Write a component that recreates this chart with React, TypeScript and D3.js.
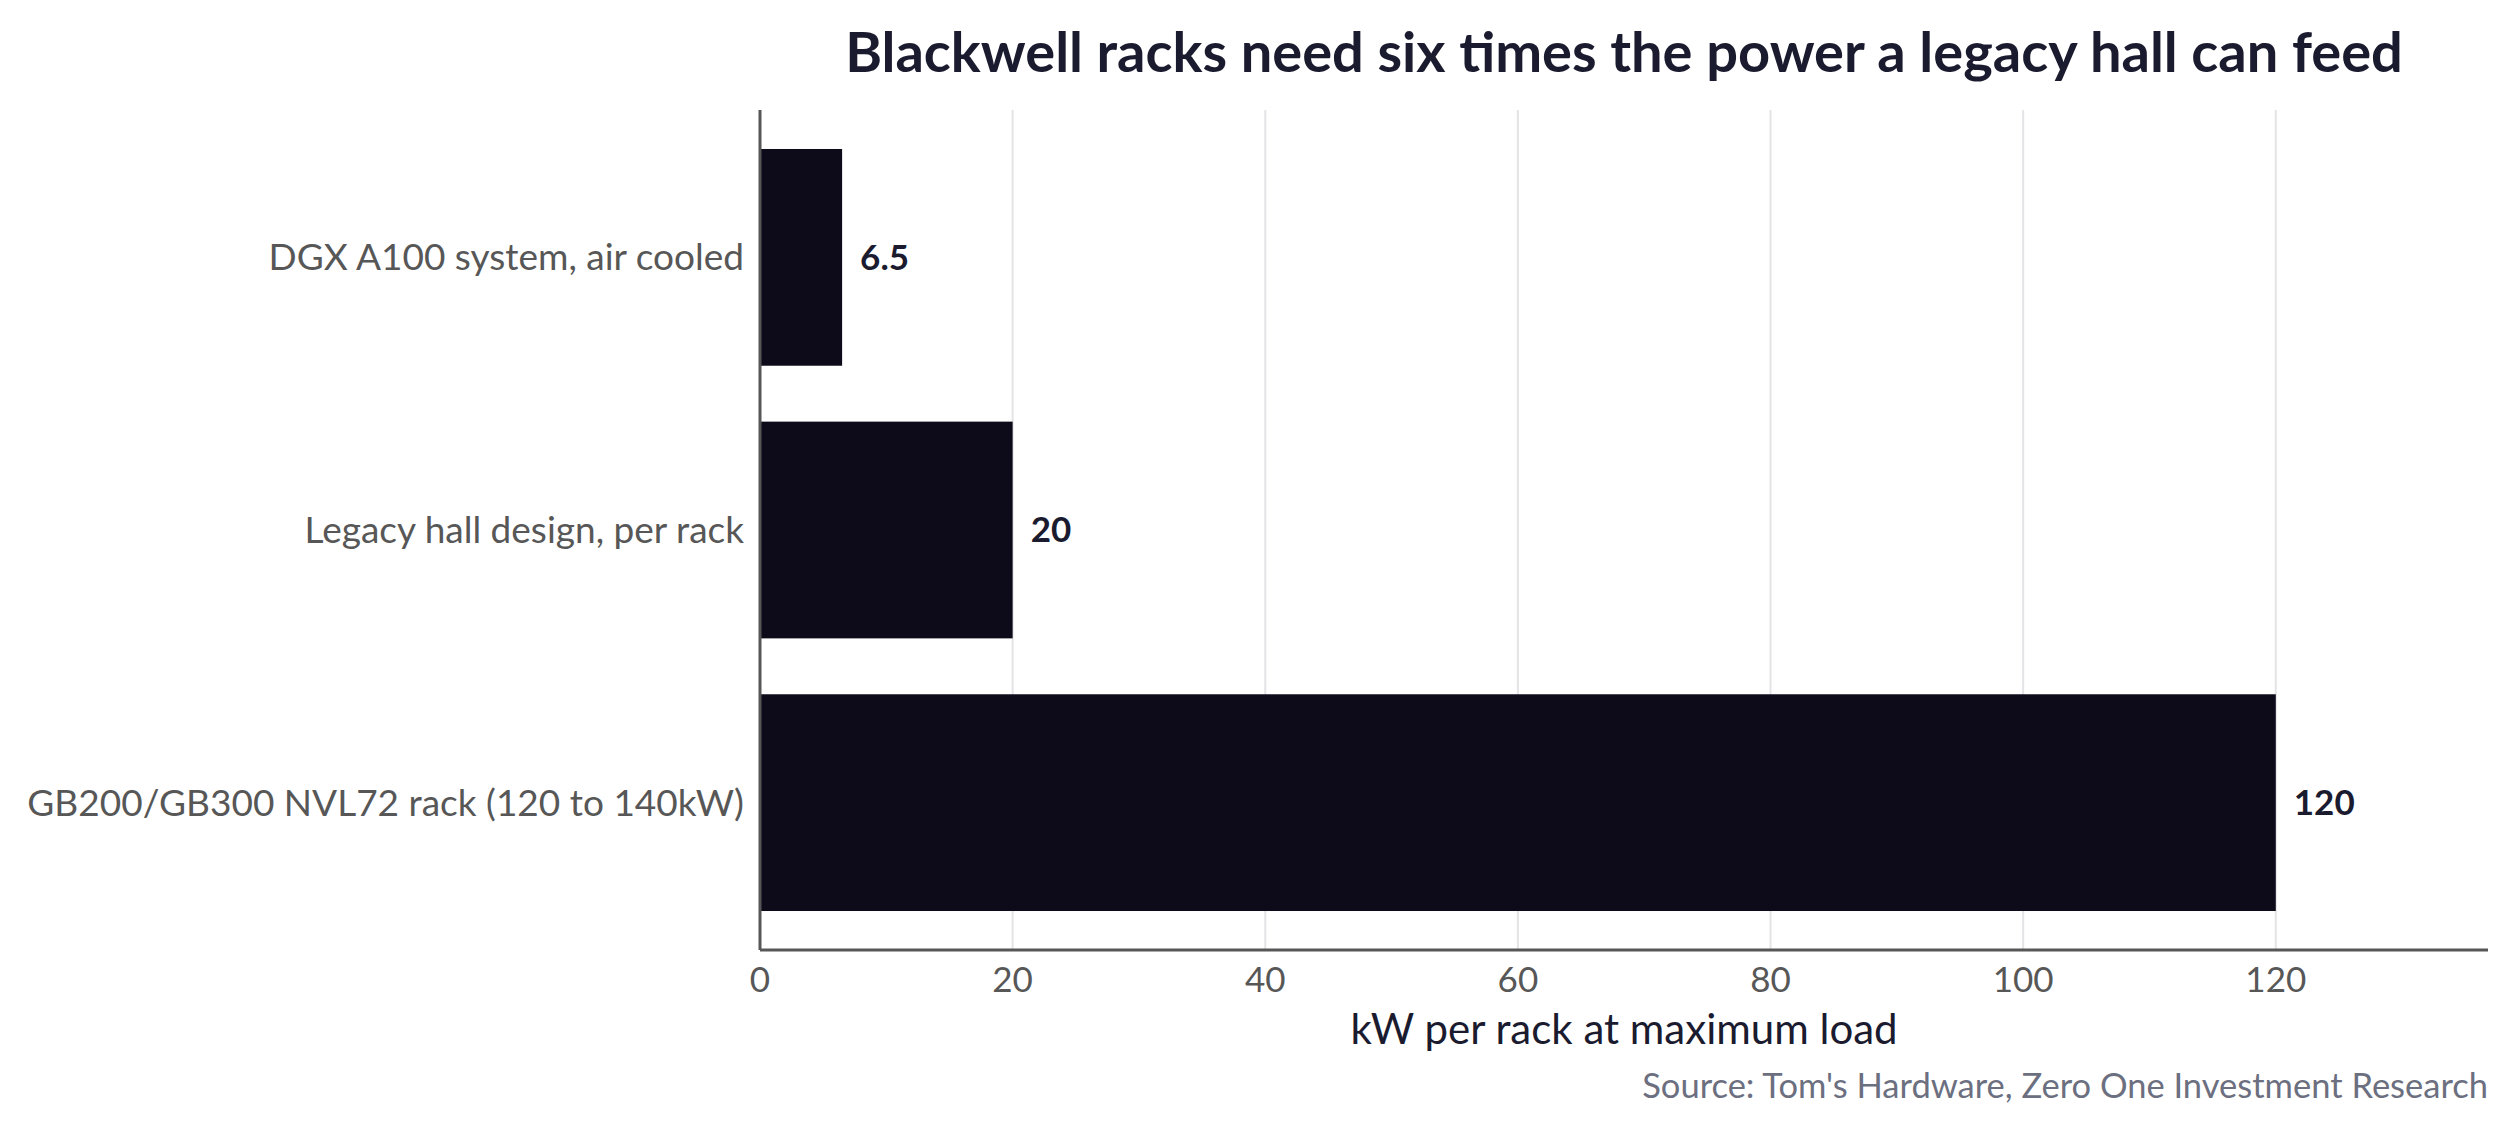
import { useEffect, useMemo } from "react";
import * as d3 from "d3";

const categories = [
  "DGX A100 system, air cooled",
  "Legacy hall design, per rack",
  "GB200/GB300 NVL72 rack (120 to 140kW)",
];
const values = [6.5, 20, 120];
const valueLabels = ["6.5", "20", "120"];
const xTicks = [0, 20, 40, 60, 80, 100, 120];

const TITLE = "Blackwell racks need six times the power a legacy hall can feed";
const X_TITLE = "kW per rack at maximum load";
const SOURCE = "Source: Tom's Hardware, Zero One Investment Research";

const WIDTH = 2518;
const HEIGHT = 1137;
const MARGIN = { top: 110, right: 30, bottom: 187, left: 760 };

const FONT = "Lato, 'Open Sans', sans-serif";
const DARK = "#1b1b2f";
const BAR = "#0d0b1a";
const GREY = "#575757";

export default function App() {
  useEffect(() => {
    document.body.style.margin = "0";
  }, []);

  const innerW = WIDTH - MARGIN.left - MARGIN.right;
  const innerH = HEIGHT - MARGIN.top - MARGIN.bottom;

  const x = useMemo(
    () => d3.scaleLinear().domain([0, 136.8]).range([0, innerW]),
    [innerW]
  );
  const y = useMemo(
    () =>
      d3
        .scaleBand<string>()
        .domain(categories)
        .range([0, innerH])
        .paddingInner(0.205)
        .paddingOuter(0.143),
    [innerH]
  );

  return (
    <svg
      width={WIDTH}
      height={HEIGHT}
      style={{ display: "block", background: "#fff" }}
      fontFamily={FONT}
    >
      <text
        x={MARGIN.left + innerW / 2}
        y={72}
        textAnchor="middle"
        fontSize={56}
        fontWeight={700}
        fill={DARK}
      >
        {TITLE}
      </text>
      <g transform={`translate(${MARGIN.left},${MARGIN.top})`}>
        {xTicks.map((t) => (
          <line
            key={t}
            x1={x(t)}
            x2={x(t)}
            y1={0}
            y2={innerH}
            stroke="#e4e4e7"
            strokeWidth={2}
          />
        ))}
        {categories.map((c, i) => (
          <g key={c}>
            <rect
              x={x(0)}
              y={y(c)}
              width={x(values[i]) - x(0)}
              height={y.bandwidth()}
              fill={BAR}
            />
            <text
              x={x(values[i]) + 18}
              y={(y(c) ?? 0) + y.bandwidth() / 2}
              dy="0.35em"
              fontSize={35}
              fontWeight={700}
              fill={DARK}
            >
              {valueLabels[i]}
            </text>
            <text
              x={-16}
              y={(y(c) ?? 0) + y.bandwidth() / 2}
              dy="0.35em"
              textAnchor="end"
              fontSize={37}
              fill={GREY}
            >
              {c}
            </text>
          </g>
        ))}
        <line x1={0} x2={0} y1={0} y2={innerH} stroke={GREY} strokeWidth={3} />
        <line
          x1={0}
          x2={innerW}
          y1={innerH}
          y2={innerH}
          stroke={GREY}
          strokeWidth={3}
        />
        {xTicks.map((t) => (
          <text
            key={t}
            x={x(t)}
            y={innerH + 42}
            textAnchor="middle"
            fontSize={35}
            fill={GREY}
          >
            {t}
          </text>
        ))}
        <text
          x={innerW / 2}
          y={innerH + 94}
          textAnchor="middle"
          fontSize={42}
          fill={DARK}
        >
          {X_TITLE}
        </text>
      </g>
      <text
        x={WIDTH - MARGIN.right}
        y={1098}
        textAnchor="end"
        fontSize={34.5}
        fill="#6c6f80"
      >
        {SOURCE}
      </text>
    </svg>
  );
}
